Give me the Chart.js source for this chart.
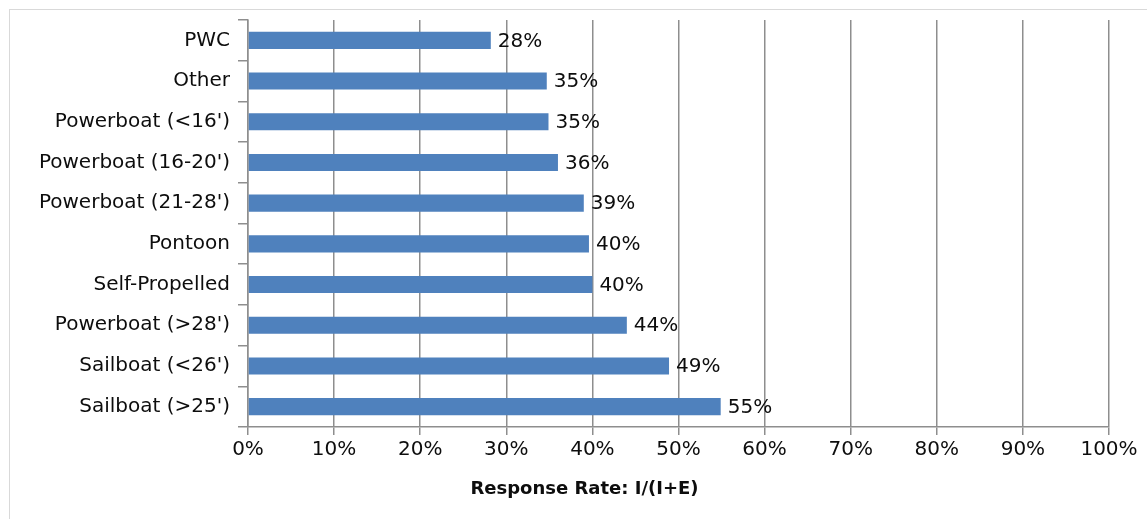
<!DOCTYPE html>
<html>
<head>
<meta charset="utf-8">
<script src="https://cdn.jsdelivr.net/npm/chart.js@4.4.1/dist/chart.umd.min.js"></script>
<style>
  html, body { margin: 0; padding: 0; background: #fff; overflow: hidden; }
  #wrap { position: relative; width: 1147px; height: 519px; overflow: hidden; }
  #frame { position: absolute; left: 9px; top: 9px; width: 1151px; height: 600px;
           border-top: 1px solid #d9d9d9; border-left: 1px solid #d9d9d9; }
  canvas { position: absolute; left: 0; top: 0; }
</style>
</head>
<body>
<div id="wrap">
  <div id="frame"></div>
  <canvas id="chart" width="1147" height="519"></canvas>
</div>
<script>
// Response rate by boat type
const categories = [
  "PWC", "Other", "Powerboat (<16')", "Powerboat (16-20')", "Powerboat (21-28')",
  "Pontoon", "Self-Propelled", "Powerboat (>28')", "Sailboat (<26')", "Sailboat (>25')"
];
const responseRate = [28.2, 34.7, 34.9, 36.0, 39.0, 39.6, 40.0, 44.0, 48.9, 54.9];
const xTicks = [0, 10, 20, 30, 40, 50, 60, 70, 80, 90, 100];
const axisTitle = "Response Rate: I/(I+E)";

const FONT = "'DejaVu Sans', sans-serif";
const GRID = '#8e8e8e';
const TEXT = '#0d0d0d';
// outer chart frame (its right edge runs past the canvas)
const FRAME = { left: 9, right: 1160 };

// writes the rounded percentage just past the end of each bar
const valueLabels = {
  id: 'valueLabels',
  afterDatasetsDraw(chart) {
    const ctx = chart.ctx;
    const meta = chart.getDatasetMeta(0);
    ctx.save();
    ctx.font = '20px ' + FONT;
    ctx.fillStyle = TEXT;
    ctx.textAlign = 'left';
    ctx.textBaseline = 'middle';
    meta.data.forEach((bar, i) => {
      const v = chart.data.datasets[0].data[i];
      ctx.fillText(Math.round(v) + '%', bar.x + 7, bar.y + 1);
    });
    ctx.restore();
  }
};

// horizontal-axis caption, centred on the outer frame below the tick labels
const axisCaption = {
  id: 'axisCaption',
  afterDraw(chart) {
    const ctx = chart.ctx;
    const xs = chart.scales.x;
    ctx.save();
    ctx.font = 'bold 18px ' + FONT;
    ctx.fillStyle = TEXT;
    ctx.textAlign = 'center';
    ctx.textBaseline = 'middle';
    ctx.fillText(axisTitle, (FRAME.left + FRAME.right) / 2, xs.bottom + 27);
    ctx.restore();
  }
};

new Chart(document.getElementById('chart'), {
  type: 'bar',
  data: {
    labels: categories,
    datasets: [{
      data: responseRate,
      backgroundColor: '#4f81bd',
      borderWidth: 0,
      barPercentage: 0.42,
      categoryPercentage: 1.0
    }]
  },
  options: {
    indexAxis: 'y',
    responsive: false,
    animation: false,
    layout: { padding: { top: 20, left: 9, right: 38, bottom: 57 } },
    plugins: {
      legend: { display: false },
      tooltip: { enabled: false },
      title: { display: false }
    },
    scales: {
      x: {
        min: 0,
        max: 100,
        afterBuildTicks(scale) { scale.ticks = xTicks.map(v => ({ value: v })); },
        afterFit(scale) { scale.height = 35; },
        ticks: {
          callback: v => v + '%',
          color: TEXT,
          font: { family: FONT, size: 20 },
          padding: 3,
          maxRotation: 0
        },
        grid: { color: GRID, lineWidth: 1.5, tickLength: 8 },
        border: { color: GRID, width: 1.5 }
      },
      y: {
        afterFit(scale) { scale.width = 239; },
        ticks: {
          color: TEXT,
          font: { family: FONT, size: 20 },
          padding: 8
        },
        grid: { drawOnChartArea: false, color: GRID, lineWidth: 1.5, tickLength: 10, offset: true },
        border: { color: GRID, width: 1.5 }
      }
    }
  },
  plugins: [valueLabels, axisCaption]
});
</script>
</body>
</html>
